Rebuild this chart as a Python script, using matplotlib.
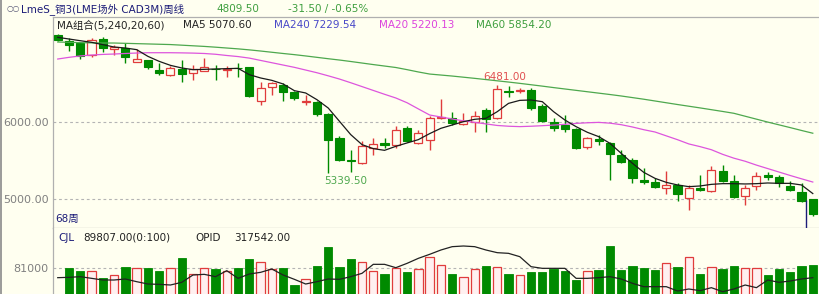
import numpy as np
import matplotlib
matplotlib.use("Agg")
import matplotlib.pyplot as plt
from matplotlib.lines import Line2D

plt.rcParams['font.family'] = ['DejaVu Sans', 'Noto Sans CJK SC']

# weekly candles (68 weeks)
opens = [7126, 7056, 7026, 6870, 7078, 6944, 6957, 6775, 6805, 6675, 6610, 6684, 6632, 6667, 6693, 6680, 6706,
         6710, 6277, 6450, 6485, 6386, 6260, 6260, 6104, 5792, 5511, 5468, 5663, 5728, 5706, 5922, 5728, 5766,
         6048, 6048, 5970, 6004, 6156, 6048, 6407, 6407, 6416, 6212, 6004, 5961, 5905, 5680, 5775, 5723, 5571,
         5506, 5247, 5225, 5138, 5182, 5017, 5138, 5104, 5363, 5234, 5043, 5173, 5312, 5290, 5173, 5087, 5000]
highs = [7147, 7091, 7026, 7087, 7100, 7005, 7022, 6944, 6805, 6762, 6723, 6805, 6736, 6827, 6740, 6727, 6762,
         6719, 6524, 6524, 6507, 6407, 6355, 6269, 6117, 5814, 5641, 5749, 5792, 5792, 5944, 5944, 5901, 6078,
         6299, 6125, 6112, 6143, 6178, 6481, 6472, 6446, 6437, 6230, 6056, 6091, 5918, 5810, 5831, 5745, 5636,
         5528, 5398, 5268, 5363, 5203, 5182, 5312, 5433, 5442, 5312, 5182, 5346, 5355, 5312, 5234, 5203, 5000]
lows = [7048, 6925, 6823, 6849, 6914, 6870, 6762, 6775, 6684, 6606, 6600, 6524, 6550, 6667, 6545, 6589, 6589,
        6330, 6217, 6351, 6269, 6290, 6217, 6074, 5339.5, 5498, 5350, 5455, 5567, 5663, 5663, 5740, 5715, 5636,
        6040, 5961, 5961, 5874, 5866, 6039, 6329, 6372, 6156, 6004, 5883, 5866, 5649, 5649, 5701, 5247, 5463,
        5203, 5190, 5138, 5061, 4974, 4855, 5104, 5087, 5225, 5009, 4922, 5117, 5247, 5160, 5104, 4965, 4780]
closes = [7069, 7005, 6853, 7065, 6957, 6979, 6849, 6818, 6710, 6632, 6697, 6624, 6684, 6710, 6684, 6688, 6697,
          6338, 6437, 6502, 6390, 6312, 6277, 6104, 5771, 5511, 5489, 5684, 5715, 5706, 5901, 5749, 5857, 6048,
          6060, 5983, 6013, 6082, 6035, 6428, 6394, 6416, 6178, 6013, 5926, 5909, 5658, 5788, 5753, 5580, 5476,
          5268, 5225, 5160, 5182, 5061, 5147, 5121, 5377, 5234, 5030, 5147, 5303, 5286, 5203, 5117, 4974, 4809.5]

ma5 = [7100, 7078, 7056, 7035, 7005, 6974, 6961, 6940, 6853, 6788, 6736, 6702, 6680, 6684, 6689, 6693, 6697,
       6615, 6572, 6541, 6494, 6407, 6377, 6290, 6182, 6009, 5836, 5706, 5654, 5632, 5684, 5728, 5771, 5849,
       5918, 5961, 6004, 6035, 6048, 6134, 6242, 6281, 6286, 6264, 6134, 6026, 5939, 5866, 5810, 5723, 5593,
       5463, 5346, 5268, 5216, 5182, 5160, 5169, 5190, 5199, 5199, 5195, 5199, 5208, 5203, 5203, 5182, 5070.6]
ma20 = [6818, 6840, 6858, 6870, 6878, 6883, 6890, 6896, 6900, 6900, 6900, 6898, 6895, 6890, 6880, 6864, 6850,
        6830, 6800, 6770, 6740, 6710, 6675, 6640, 6600, 6558, 6510, 6460, 6410, 6360, 6312, 6250, 6170, 6091,
        6065, 6039, 6015, 5995, 5975, 5955, 5945, 5940, 5945, 5952, 5960, 5970, 5982, 5990, 5995, 5985, 5965,
        5935, 5900, 5870, 5820, 5770, 5715, 5680, 5640, 5580, 5530, 5490, 5440, 5395, 5350, 5305, 5262, 5220.13]
ma60 = [7039, 7035, 7031, 7028, 7026, 7026, 7022, 7018, 7014, 7010, 7006, 6998, 6990, 6982, 6972, 6961, 6950,
        6937, 6922, 6906, 6890, 6875, 6858, 6840, 6822, 6805, 6786, 6766, 6746, 6727, 6708, 6680, 6650, 6623,
        6610, 6597, 6582, 6567, 6551, 6535, 6519, 6502, 6484, 6466, 6447, 6429, 6411, 6393, 6375, 6357, 6338,
        6317, 6296, 6273, 6250, 6227, 6205, 6183, 6160, 6137, 6113, 6075, 6037, 5999, 5963, 5927, 5890, 5854.2]

# volume (CJL) and open interest (OPID); first week has no volume bar
volume = [np.nan, 81000, 74700, 74700, 59000, 65300, 83300, 82600, 81000, 74700, 82600, 104500, 67600, 81000,
          78700, 74700, 82600, 102200, 96700, 78700, 82600, 41900, 55200, 86500, 130300, 83300, 102200, 95200,
          75500, 66900, 82600, 73000, 79400, 106800, 88800, 66900, 61300, 78700, 87100, 84800, 66900, 65300,
          73000, 73000, 79400, 74700, 53600, 74700, 77100, 134000, 77100, 87100, 81000, 77100, 94100, 84800,
          106800, 67600, 84800, 79400, 87100, 82600, 82600, 65300, 79400, 73000, 87100, 89807]
opid = [317542, 318042, 319042, 316542, 314042, 314042, 315542, 311542, 308042, 307542, 306542, 310542, 321542,
        322542, 319042, 328042, 316542, 323042, 325542, 330542, 321542, 315042, 308042, 311542, 315542, 315042,
        319042, 324042, 337542, 337542, 332542, 339042, 346542, 352542, 359042, 364042, 365042, 364042, 359042,
        355042, 354042, 349042, 334042, 331542, 331542, 331542, 316542, 316542, 317542, 319042, 315542, 309042,
        304042, 304042, 304042, 297542, 300542, 298042, 302542, 296542, 300542, 306542, 302542, 314042, 310542,
        312542, 315542, 317542]

bg = '#fffff0'
up_c = '#e03c3c'
dn_c = '#008a00'
grid_c = '#b4b4b4'
axis_c = '#b0b0b0'
lab_c = '#808080'
navy = '#1c1c78'
fs = 7.5

n = len(closes)
x = np.arange(n)
o = np.array(opens, float)
c = np.array(closes, float)
up = c >= o

fig = plt.figure(figsize=(8.2, 2.94), dpi=100, facecolor=bg)
W, H = 820, 294
ax = fig.add_axes([53 / W, 66 / H, 767 / W, 211 / H], facecolor=bg)
axv = fig.add_axes([53 / W, 0, 767 / W, 66 / H], facecolor=bg)

# price panel
for yv in [5000, 6000]:
    ax.axhline(yv, color=grid_c, lw=0.8, ls=(0, (2.5, 2.5)), zorder=1)

cols = np.where(up, up_c, dn_c)
ax.vlines(x, lows, highs, colors=cols, lw=1.0, zorder=2)
body_bot = np.minimum(o, c)
body_h = np.maximum(np.abs(c - o), 6)
ax.bar(x[~up], body_h[~up], bottom=body_bot[~up], width=0.72, color=dn_c, edgecolor=dn_c, lw=0.8, zorder=3)
ax.bar(x[up], body_h[up], bottom=body_bot[up], width=0.72, color=bg, edgecolor=up_c, lw=0.9, zorder=3)

ax.plot(x, ma60, color='#4ea84e', lw=0.9, zorder=4)
ax.plot(x, ma20, color='#dd55dd', lw=0.9, zorder=4)
ax.plot(x, ma5, color='#1a1a1a', lw=0.9, zorder=5)

# cursor line
cursor_x = 66.4
ax.vlines(cursor_x, 4600, 4990, color=navy, lw=1.0, zorder=6)

ax.annotate('6481.00', xy=(39, max(highs[30:50])), xytext=(7, 8), textcoords='offset pixels',
            ha='center', va='center', color='#e05050', fontsize=fs)
ax.annotate('5339.50', xy=(24, min(lows[:34])), xytext=(17, -8), textcoords='offset pixels',
            ha='center', va='center', color='#4ea84e', fontsize=fs)
ax.annotate('4855.00', xy=(56, min(lows)), xytext=(-4, -36), textcoords='offset pixels',
            ha='center', va='center', color='#4ea84e', fontsize=fs)

ax.set_xlim(-0.42, n - 0.36)
ax.set_ylim(4623, 7364)
ax.set_xticks([])
ax.set_yticks([5000, 6000])
ax.set_yticklabels(['5000.00', '6000.00'])
ax.tick_params(axis='y', length=0, pad=3, labelcolor=lab_c, labelsize=fs + 0.5)
ax.spines['right'].set_visible(False)
for s in ['left', 'top', 'bottom']:
    ax.spines[s].set_color(axis_c)
    ax.spines[s].set_linewidth(0.9)

# volume panel
axv.axhline(81000, color=grid_c, lw=0.8, ls=(0, (2.5, 2.5)), zorder=1)
vol = np.array(volume, float)
axv.bar(x[~up], vol[~up], width=0.74, color=dn_c, edgecolor=dn_c, lw=0.6, zorder=2)
axv.bar(x[up], vol[up], width=0.74, color='#fff0f0', edgecolor=up_c, lw=0.9, zorder=2)
axv.set_xlim(-0.42, n - 0.36)
axv.set_ylim(20700, 175500)
axv.set_xticks([])
axv.set_yticks([81000])
axv.set_yticklabels(['81000'])
axv.tick_params(axis='y', length=0, pad=3, labelcolor=lab_c, labelsize=fs + 0.5)
for s in ['right', 'top', 'bottom']:
    axv.spines[s].set_visible(False)
axv.spines['left'].set_color(axis_c)
axv.spines['left'].set_linewidth(0.9)

axo = axv.twinx()
axo.plot(x, opid, color='#222222', lw=0.9, zorder=3)
axo.set_ylim(293047, 392047)
axo.set_xlim(-0.42, n - 0.36)
axo.axis('off')


def ftext(px, py, s, color, size=fs):
    fig.text(px / W, 1 - py / H, s, color=color, fontsize=size, va='center', ha='left')


# header rows
ftext(7, 9, '○○', '#505070', size=5.5)
ftext(21, 9, 'LmeS_铜3(LME场外 CAD3M)周线', navy)
ftext(216, 9, '4809.50', '#3f9f3f')
ftext(288, 9, '-31.50 / -0.65%', '#3f9f3f')

ftext(57, 25, 'MA组合(5,240,20,60)', '#222222')
ftext(183, 25, 'MA5 5070.60', '#222222')
ftext(274, 25, 'MA240 7229.54', '#4848c8')
ftext(379, 25, 'MA20 5220.13', '#dd44dd')
ftext(476, 25, 'MA60 5854.20', '#3f9f3f')

ftext(55, 219, '68周', navy)
ftext(58, 238, 'CJL', navy)
ftext(83, 238, '89807.00(0:100)', '#222222')
ftext(195, 238, 'OPID', '#222222')
ftext(234, 238, '317542.00', '#222222')

fig.add_artist(Line2D([0.6 / W, 0.6 / W], [0, 1], color='#8a8a8a', lw=1.2))

fig.savefig('out.png', dpi=100, facecolor=bg)
